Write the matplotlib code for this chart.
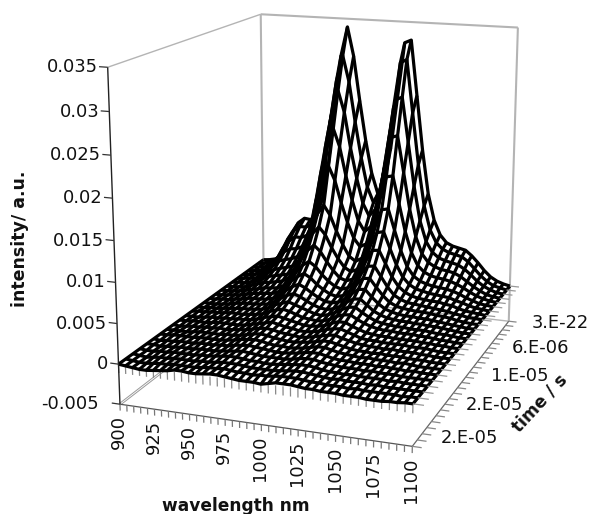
import numpy as np
import matplotlib
matplotlib.use('Agg')
import matplotlib.pyplot as plt
from mpl_toolkits.mplot3d import proj3d

wavelength = list(range(900, 1105, 5))
wl_ticks = [900, 925, 950, 975, 1000, 1025, 1050, 1075, 1100]
time_rows = [0, 6, 12, 18, 24]
time_labels = ['3.E-22', '6.E-06', '1.E-05', '2.E-05', '2.E-05']
z_ticks = [-0.005, 0, 0.005, 0.01, 0.015, 0.02, 0.025, 0.03, 0.035]
z_labels = ['-0.005', '0', '0.005', '0.01', '0.015', '0.02', '0.025', '0.03', '0.035']

# intensity per time row, in units of 1e-4 (row 0 = earliest = back of the box)
t00 = [0,1,3,8,24,46,60,67,66,72,98,150,238,300,339,300,240,185,140,112,128,178,250,322,326,252,178,118,82,62,52,48,46,44,37,28,18,10,5,2,0]
t01 = [0,1,3,7,20,40,53,60,60,64,88,135,212,268,303,268,214,165,125,104,120,168,236,298,303,232,162,106,73,56,48,44,42,40,34,25,16,9,4,2,0]
t02 = [0,1,2,6,16,32,43,50,50,54,74,114,181,228,259,230,182,141,107,90,100,141,199,252,256,196,137,90,62,48,41,38,36,34,29,22,14,8,4,1,0]
t03 = [0,1,2,5,12,24,33,38,39,43,60,93,148,186,211,187,148,115,87,73,81,114,162,205,208,159,110,73,50,39,34,31,30,28,24,18,12,7,3,1,0]
t04 = [0,1,2,4,9,18,25,28,30,34,47,72,115,145,164,145,115,89,68,57,62,87,123,156,158,121,84,56,39,31,27,25,24,22,19,15,10,6,3,1,0]
t05 = [0,1,2,3,7,13,18,21,23,26,34,52,81,102,115,102,81,63,48,42,47,65,92,116,118,90,63,42,30,24,21,19,18,17,15,12,8,5,2,1,0]
t06 = [0,1,1,3,6,10,14,16,18,20,27,41,63,80,90,80,63,49,38,33,37,51,72,90,92,70,49,33,24,19,17,15,14,13,12,9,7,4,2,1,0]
t07 = [0,0,1,2,5,8,11,12,14,16,21,32,49,62,70,62,49,38,29,26,29,40,56,71,72,55,38,26,19,15,13,12,11,11,9,8,5,3,2,1,0]
t08 = [0,0,1,2,4,6,8,10,11,12,16,24,37,47,53,47,37,29,23,20,23,31,44,55,56,43,30,20,15,12,11,10,9,8,7,6,4,3,1,1,0]
t09 = [0,0,1,2,3,5,7,8,9,10,13,19,30,37,42,37,29,23,18,16,18,25,35,44,45,34,24,16,12,10,9,8,8,7,6,5,4,2,1,0,0]
t10 = [0,0,1,1,3,4,6,7,7,8,10,15,23,29,33,29,23,18,14,13,15,20,28,35,36,27,19,13,10,8,7,7,6,6,5,4,3,2,1,0,0]
t11 = [0,0,0,1,2,4,5,6,6,7,8,12,18,23,26,23,18,14,11,10,12,16,23,28,29,22,15,11,8,7,6,6,5,5,4,4,3,2,1,0,0]
t12 = [0,0,1,1,2,3,4,5,5,6,7,10,15,18,21,18,15,12,9,8,10,14,19,23,24,18,13,9,7,6,5,5,4,4,4,3,2,2,1,0,0]
t13 = [0,1,1,2,2,3,4,4,4,5,6,8,12,15,17,15,12,9,8,7,8,11,16,19,20,15,11,8,6,5,5,4,4,4,3,3,2,1,1,0,0]
t14 = [0,0,0,1,2,2,3,3,4,4,5,7,10,12,14,12,10,8,6,6,7,9,13,16,16,12,9,6,5,4,4,3,3,3,3,2,2,1,1,0,0]
t15 = [0,0,1,1,1,2,3,3,3,3,4,6,8,10,12,10,8,7,5,5,6,8,11,13,14,11,8,5,4,4,3,3,3,3,2,2,2,1,0,0,0]
t16 = [0,-1,0,1,1,2,2,3,2,3,4,5,7,9,10,9,7,6,5,4,5,7,9,11,12,9,7,5,4,3,3,2,3,2,2,2,1,1,0,0,0]
t17 = [0,0,0,0,1,2,2,2,2,3,3,4,6,8,9,8,6,5,4,4,5,6,8,10,10,8,6,4,3,3,2,3,2,2,2,1,1,1,0,0,0]
t18 = [0,0,1,1,1,1,2,2,2,2,3,4,6,7,8,7,5,4,4,3,4,5,7,9,9,7,5,4,3,2,3,2,2,2,1,2,1,0,0,0,0]
t19 = [0,-1,0,0,1,1,1,2,2,2,3,3,5,6,7,6,5,4,3,3,4,5,7,8,8,6,4,3,3,2,2,2,1,2,1,1,0,1,0,0,0]
t20 = [0,0,-1,0,0,1,1,1,2,2,2,3,4,5,6,5,4,3,3,3,3,4,6,7,7,5,4,3,2,2,2,1,2,1,1,1,0,0,0,0,0]
t21 = [0,-1,-1,0,0,1,1,1,1,2,2,3,4,5,5,4,3,3,2,2,3,4,5,6,6,5,3,2,2,1,2,1,1,1,1,0,1,0,0,0,0]
t22 = [0,-1,-2,-1,0,0,1,1,1,1,2,2,3,4,4,4,3,2,2,2,2,3,4,5,5,4,3,2,1,2,1,1,1,0,1,0,0,0,0,0,0]
t23 = [0,-1,-2,-2,-1,0,0,1,1,1,1,2,3,3,4,3,2,2,1,2,2,3,4,4,4,3,2,2,1,1,1,0,1,0,0,0,0,0,-1,0,0]
t24 = [0,-1,-2,-3,-3,-2,-1,0,2,2,1,1,2,3,3,2,1,0,0,0,-1,1,3,3,3,2,1,1,0,0,0,-1,-1,-1,-2,-2,-2,-1,-1,0,0]

Z = np.array([t00,t01,t02,t03,t04,t05,t06,t07,t08,t09,t10,t11,t12,t13,t14,t15,t16,t17,t18,t19,t20,t21,t22,t23,t24], float) * 1e-4
rows = np.arange(Z.shape[0])
X, Y = np.meshgrid(wavelength, rows)

FS = 12.9
W, H = 591, 514
fig = plt.figure(figsize=(W/100, H/100), dpi=100, facecolor='white')
ax = fig.add_axes([45.8/W, 24.5/H, 550.2/W, 550.2/H], projection='3d', facecolor='none')
ax.computed_zorder = False
ax.set_xlim(900, 1100); ax.set_ylim(24, 0); ax.set_zlim(-0.005, 0.035)
ax.view_init(elev=14.946, azim=-70.048)
ax.set_proj_type('persp', focal_length=0.5311)
ax.set_box_aspect((0.8961, 1.1161, 1))
ax.set_axis_off()

xa, xb = 900, 1100
ya, yb = 24, 0        # front, back
zb, zt = -0.005, 0.035
GR = '#b4b4b4'
def seg(p, q, color=GR, lw=1.2, z=1):
    ax.plot([p[0], q[0]], [p[1], q[1]], [p[2], q[2]], color=color, lw=lw, zorder=z, solid_capstyle='butt')

# walls
seg((xa, yb, zb), (xa, yb, zt), lw=1.5)
seg((xb, yb, zb), (xb, yb, zt), lw=1.5)
seg((xa, yb, zt), (xb, yb, zt), lw=1.5)
seg((xa, ya, zt), (xa, yb, zt), lw=1.0)
seg((xa, yb, zb), (xb, yb, zb), lw=1.0)
# double lines on the floor and at zero level
seg((xa, ya, zb), (xa, yb, zb), color='#999999', lw=2.0)
seg((xa, ya, zb), (xa, yb, zb), color='white', lw=0.6, z=1.1)
seg((xb, ya, 0), (xb, yb, 0), color='#999999', lw=2.0)
seg((xb, ya, 0), (xb, yb, 0), color='white', lw=0.8, z=1.1)

# surface
ax.plot_wireframe(X, Y, Z, rstride=1, cstride=1, color='black', linewidth=2.3, zorder=3)

# axes with ticks
seg((xa, ya, zb), (xa, ya, zt), color='#222222', lw=1.0, z=4)
seg((xa, ya, zb), (xb, ya, zb), color='#555555', lw=0.9, z=2)
seg((xb, ya, zb), (xb, yb, zb), color='#666666', lw=0.9, z=2)
for w in wavelength:
    seg((w, ya, zb), (w, ya, zb - 0.0008), color='#777777', lw=0.9, z=2)
    seg((w, ya, 0), (w, ya, -0.0011), color='#888888', lw=0.9, z=2)
for r in rows:
    seg((xb, r, zb), (xb + 6, r, zb), color='#888888', lw=0.9, z=2)
    seg((xb, r, 0), (xb + 7, r, 0), color='#999999', lw=0.9, z=4)
for v in z_ticks:
    seg((xa, ya, v), (xa - 6, ya, v), color='#333333', lw=0.9, z=4)

M = ax.get_proj()
def lab(x, y, z, s, dx, dy, **kw):
    a, b, _ = proj3d.proj_transform(x, y, z, M)
    ax.annotate(s, xy=(a, b), xycoords='data', xytext=(dx*0.72, dy*0.72), textcoords='offset points',
                annotation_clip=False, fontsize=FS, color='#111111', **kw)

for v, s in zip(z_ticks, z_labels):
    lab(xa, ya, v, s, -21 if v < 0 else -10, 0, ha='right', va='center')
for w in wl_ticks:
    lab(w, ya, zb, str(w), -1, -11, ha='center', va='top', rotation=90)
time_dx = [23, 24, 25, 25, 28]
time_dy = [-2, 0, 1, 5, 8]
for r, s, dx, dy in zip(time_rows, time_labels, time_dx, time_dy):
    lab(xb, r, zb, s, dx, dy, ha='left', va='center')

fig.text(236/W, 1-506/H, 'wavelength nm', fontsize=12.25, fontweight='bold', ha='center', va='center', color='#111111')
fig.text(20/W, 1-239/H, 'intensity/ a.u.', fontsize=12.5, fontweight='bold', rotation=90, ha='center', va='center', color='#111111')
fig.text(540/W, 1-403/H, 'time / s', fontsize=12.3, fontweight='bold', rotation=47, ha='center', va='center', color='#111111')

fig.savefig('out.png', dpi=100)
